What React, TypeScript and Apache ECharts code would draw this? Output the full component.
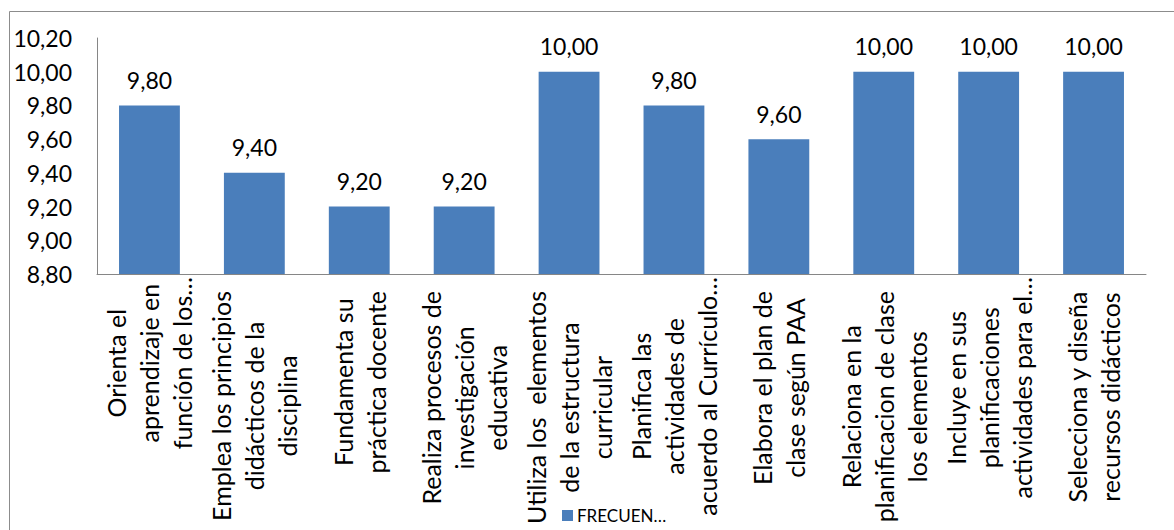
import React, { useEffect, useRef } from "react";
import * as echarts from "echarts";

const categories: string[] = [
  "Orienta el\naprendizaje en\nfunción de los…",
  "Emplea los principios\ndidácticos de la\ndisciplina",
  "Fundamenta su\npráctica docente",
  "Realiza procesos de\ninvestigación\neducativa",
  "Utiliza los  elementos\nde la estructura\ncurricular",
  "Planifica las\nactividades de\nacuerdo al Currículo…",
  "Elabora el plan de\nclase según PAA",
  "Relaciona en la\nplanificacion de clase\nlos elementos",
  "Incluye en sus\nplanificaciones\nactividades para el…",
  "Selecciona y diseña\nrecursos didácticos",
];

const values: number[] = [9.8, 9.4, 9.2, 9.2, 10.0, 9.8, 9.6, 10.0, 10.0, 10.0];

const seriesName = "FRECUEN…";

const yMin = 8.8;
const yMax = 10.2;
const yStep = 0.2;

const FONT = "Lato, 'Open Sans', sans-serif";
const fmt = (v: number) => v.toFixed(2).replace(".", ",");

export default function App() {
  const ref = useRef<HTMLDivElement>(null);

  useEffect(() => {
    if (!ref.current) return;
    const chart = echarts.init(ref.current, undefined, { renderer: "svg" });
    const labelStyle = {
      align: "center",
      lineHeight: 33,
      fontSize: 25,
      fontFamily: FONT,
      color: "#000",
    };
    chart.setOption({
      animation: false,
      backgroundColor: "#fff",
      graphic: [
        {
          type: "rect",
          silent: true,
          shape: { x: 9.5, y: 11.5, width: 1300, height: 700 },
          style: { fill: "none", stroke: "#8c8c8c", lineWidth: 1 },
        },
      ],
      legend: {
        show: true,
        left: 557,
        top: 502,
        itemWidth: 11,
        itemHeight: 11,
        itemGap: 5,
        icon: "rect",
        textStyle: { fontFamily: FONT, fontSize: 17, color: "#000", padding: [0, 0, 0, -1] },
        data: [seriesName],
      },
      grid: { left: 97, right: 28, top: 38, bottom: 256, containLabel: false },
      xAxis: {
        type: "category",
        data: categories,
        axisLine: { show: true, lineStyle: { color: "#868686", width: 1 } },
        axisTick: { show: false },
        axisLabel: {
          interval: 0,
          rotate: 90,
          margin: 3,
          formatter: (v: string) => {
            const trunc = v.endsWith("…");
            const key = trunc ? "t" : "n";
            return v
              .split("\n")
              .map((l) => `{${key}|${l}}`)
              .join("\n");
          },
          rich: {
            n: { ...labelStyle, padding: [0, 14, 0, 0] },
            t: { ...labelStyle, padding: [0, 0, 0, 0] },
          },
        },
      },
      yAxis: {
        type: "value",
        min: yMin,
        max: yMax,
        interval: yStep,
        axisLine: { show: true, lineStyle: { color: "#868686", width: 1 } },
        axisTick: { show: false },
        splitLine: { show: false },
        axisLabel: {
          margin: 25,
          fontSize: 23,
          fontFamily: FONT,
          color: "#000",
          formatter: (v: number) => fmt(v),
        },
      },
      series: [
        {
          name: seriesName,
          type: "bar",
          data: values,
          barWidth: "58%",
          itemStyle: { color: "#4A7EBB" },
          label: {
            show: true,
            position: "top",
            distance: 14,
            fontSize: 23,
            fontFamily: FONT,
            color: "#000",
            formatter: (p: any) => fmt(p.value),
          },
        },
      ],
    });
    return () => chart.dispose();
  }, []);

  return (
    <div
      ref={ref}
      style={{ position: "fixed", left: 0, top: 0, width: 1174, height: 530 }}
    />
  );
}
